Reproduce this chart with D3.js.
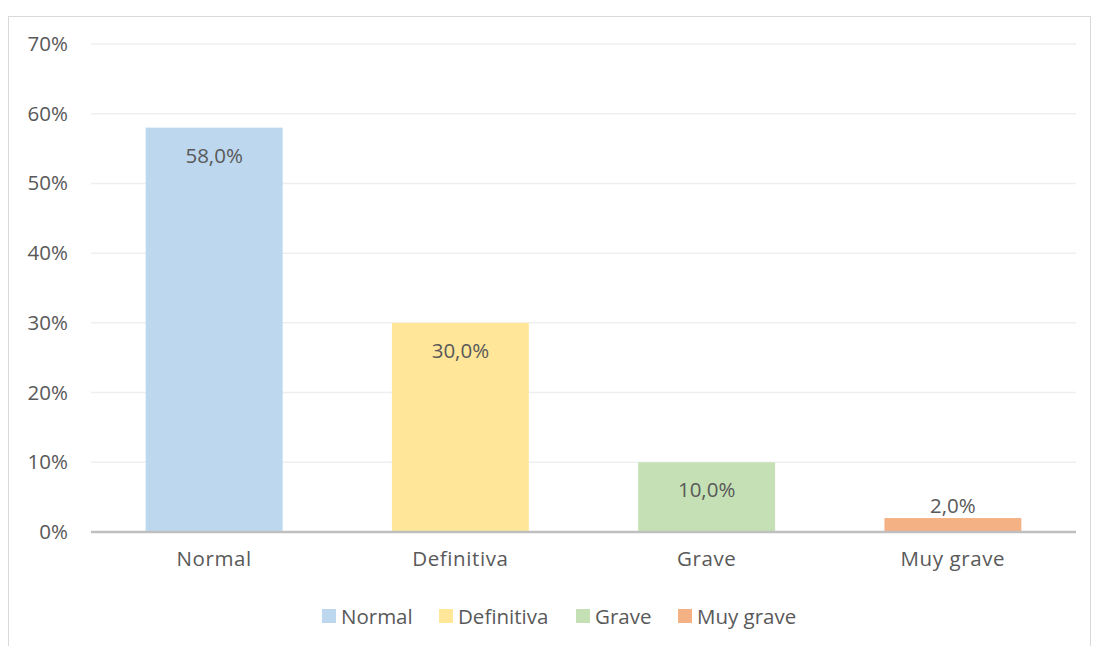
<!DOCTYPE html>
<html>
<head>
<meta charset="utf-8">
<script src="https://cdn.jsdelivr.net/npm/d3@7"></script>
<style>
  body { margin: 0; background: #fff; }
  text { font-family: "Open Sans", sans-serif; fill: #595959; }
</style>
</head>
<body>
<svg id="chart" width="1093" height="646"></svg>
<script>
var categories = ['Normal', 'Definitiva', 'Grave', 'Muy grave'];
var values = [0.58, 0.30, 0.10, 0.02];
var colors = ['#BDD7EE', '#FFE699', '#C5E0B4', '#F4B183'];
var yTicks = [0, 0.1, 0.2, 0.3, 0.4, 0.5, 0.6, 0.7];

var svg = d3.select('#chart');
var margin = {left: 91, right: 1076, top: 44, bottom: 532};
var pct = d3.format('.0%');
var labelFormat = d => d3.format('.1f')(d * 100).replace('.', ',') + '%';
var fontSize = '20.5px';

// outer frame
svg.append('rect')
    .attr('x', 8.5).attr('y', 16.5)
    .attr('width', 1082).attr('height', 640)
    .attr('fill', 'none')
    .attr('stroke', '#d9d9d9');

var x = d3.scaleBand()
    .domain(categories)
    .range([margin.left, margin.right])
    .paddingInner(0.444)
    .paddingOuter(0.222);

var y = d3.scaleLinear()
    .domain([0, 0.7])
    .range([margin.bottom, margin.top]);

// gridlines
svg.append('g').selectAll('line')
    .data(yTicks.slice(1)).enter()
    .append('line')
    .attr('x1', margin.left).attr('x2', margin.right)
    .attr('y1', d => y(d)).attr('y2', d => y(d))
    .attr('stroke', '#efefef')
    .attr('stroke-width', 1.5);

// y tick labels
var yAxis = d3.axisLeft(y).tickValues(yTicks).tickFormat(pct).tickSize(0).tickPadding(23);
svg.append('g')
    .attr('transform', `translate(${margin.left},0)`)
    .call(yAxis)
    .call(g => g.select('.domain').remove())
    .selectAll('text')
    .style('font-size', fontSize)
    .style('font-family', '"Open Sans", sans-serif')
    .attr('fill', '#595959');

// bars
var data = categories.map((c, i) => ({cat: c, val: values[i], color: colors[i]}));
svg.append('g').selectAll('rect')
    .data(data).enter()
    .append('rect')
    .attr('x', d => x(d.cat))
    .attr('y', d => y(d.val))
    .attr('width', x.bandwidth())
    .attr('height', d => y(0) - y(d.val))
    .attr('fill', d => d.color);

// value labels
svg.append('g').selectAll('text')
    .data(data).enter()
    .append('text')
    .attr('x', d => x(d.cat) + x.bandwidth() / 2)
    .attr('y', d => d.val > 0.05 ? y(d.val) + 35 : y(d.val) - 5)
    .attr('text-anchor', 'middle')
    .style('font-size', fontSize)
    .text(d => labelFormat(d.val));

// x axis
var xAxis = d3.axisBottom(x).tickSize(0).tickPadding(19);
svg.append('g')
    .attr('transform', `translate(0,${margin.bottom})`)
    .call(xAxis)
    .call(g => g.select('.domain')
        .attr('stroke', '#bfbfbf')
        .attr('stroke-width', 2.5)
        .attr('d', `M${margin.left},0H${margin.right}`))
    .selectAll('text')
    .style('font-size', fontSize)
    .style('font-family', '"Open Sans", sans-serif')
    .attr('fill', '#595959')
    .attr('letter-spacing', '0.6px');

// legend
var legendX = [322, 439, 576, 678];
var legend = svg.append('g').selectAll('g')
    .data(data).enter()
    .append('g')
    .attr('transform', (d, i) => `translate(${legendX[i]},616)`);
legend.append('rect')
    .attr('x', 0).attr('y', -7)
    .attr('width', 14).attr('height', 14)
    .attr('fill', d => d.color);
legend.append('text')
    .attr('x', 19).attr('y', 7.5)
    .style('font-size', fontSize)
    .text(d => d.cat);
</script>
</body>
</html>
